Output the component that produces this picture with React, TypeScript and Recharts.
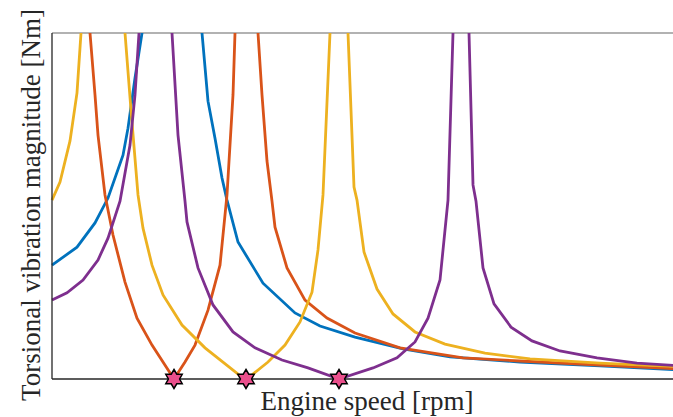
import React from 'react';
import {
  ComposedChart,
  Line,
  Scatter,
  XAxis,
  YAxis,
  ReferenceLine,
} from 'recharts';

// ---------------------------------------------------------------------------
// Data: [engine speed (rpm), torsional vibration magnitude (Nm)]
// values above 100 are off the top of the axes (resonance peaks)
// ---------------------------------------------------------------------------

const blueSeries: [number, number][] = [
  [1000, 32.9], [1125, 38.1], [1215, 45.1], [1280, 52.3], [1355, 64.7],
  [1380, 72.5], [1415, 87.0], [1450, 100], [1600, 400], [1750, 100],
  [1780, 80.3], [1815, 69.6], [1850, 58.1], [1875, 51.7], [1930, 39.6],
  [2055, 27.7], [2215, 19.1], [2340, 15.3], [2515, 12.1], [2755, 8.7],
  [2990, 6.4], [3340, 4.9], [3740, 3.8], [4150, 2.6],
];

const orangeSeries: [number, number][] = [
  [1000, 300], [1190, 100], [1215, 82.1], [1230, 70.5], [1265, 53.2],
  [1305, 41.6], [1365, 28.0], [1425, 17.6], [1500, 9.8], [1610, 0],
  [1665, 4.9], [1715, 9.8], [1780, 19.9], [1840, 32.9], [1875, 53.2],
  [1905, 82.1], [1915, 100], [1970, 400], [2030, 100], [2050, 82.1],
  [2075, 63.0], [2100, 51.4], [2115, 43.9], [2175, 32.1], [2265, 22.8],
  [2375, 17.6], [2515, 13.3], [2740, 9.0], [3055, 6.1], [3340, 5.2],
  [3740, 4.0], [4150, 2.9],
];

const yellowSeries: [number, number][] = [
  [1000, 51.7], [1040, 56.9], [1090, 68.8], [1125, 82.7], [1145, 100],
  [1255, 400], [1365, 100], [1395, 77.7], [1430, 53.2], [1455, 43.6],
  [1500, 32.9], [1555, 24.3], [1650, 15.6], [1765, 9.0], [1935, 1.2],
  [1970, 0], [2000, 1.2], [2080, 4.9], [2165, 9.8], [2240, 16.5],
  [2300, 25.1], [2330, 37.3], [2355, 53.2], [2390, 100], [2435, 400],
  [2480, 100], [2510, 55.5], [2525, 51.7], [2560, 36.7], [2625, 26.0],
  [2705, 18.8], [2815, 13.6], [2965, 10.1], [3165, 7.5], [3390, 5.8],
  [3740, 4.6], [4150, 3.5],
];

const purpleSeries: [number, number][] = [
  [1000, 22.8], [1075, 24.9], [1155, 28.6], [1230, 34.4], [1280, 40.7],
  [1340, 51.4], [1390, 67.6], [1415, 82.1], [1435, 100], [1515, 400],
  [1600, 100], [1630, 70.5], [1665, 51.4], [1675, 45.4], [1730, 32.1],
  [1805, 21.4], [1905, 13.6], [2015, 9.0], [2150, 5.5], [2280, 3.2],
  [2435, 0], [2605, 3.2], [2725, 6.1], [2815, 10.7], [2880, 17.6],
  [2940, 28.6], [2980, 51.7], [3005, 100], [3045, 400], [3085, 100],
  [3105, 56.1], [3120, 51.4], [3155, 32.1], [3210, 21.7], [3295, 15.0],
  [3400, 11.0], [3540, 8.1], [3725, 6.1], [3925, 4.6], [4150, 3.8],
];

// anti-resonance points marked with stars
const antiResonanceRpm = [1610, 1970, 2435];

const X_DOMAIN: [number, number] = [1000, 4150];
const Y_DOMAIN: [number, number] = [0, 100];

const toRows = (s: [number, number][]) => s.map(([rpm, v]) => ({ rpm, v }));

const series = [
  { name: 'blue', color: '#0072BD', data: toRows(blueSeries) },
  { name: 'orange', color: '#D95319', data: toRows(orangeSeries) },
  { name: 'yellow', color: '#EDB120', data: toRows(yellowSeries) },
  { name: 'purple', color: '#7E2F8E', data: toRows(purpleSeries) },
];

const starData = antiResonanceRpm.map((rpm) => ({ rpm, v: 0 }));

// six pointed star marker
const Hexagram = (props: any) => {
  const { cx, cy } = props;
  if (cx == null || cy == null) return null;
  const R = 9.5;
  const r = 5.6;
  const pts: string[] = [];
  for (let i = 0; i < 12; i++) {
    const a = -Math.PI / 2 + (i * Math.PI) / 6;
    const rad = i % 2 === 0 ? R : r;
    pts.push(`${cx + rad * Math.cos(a)},${cy + rad * Math.sin(a)}`);
  }
  return <polygon points={pts.join(' ')} fill="#EA4F8C" stroke="#000" strokeWidth={1.5} strokeLinejoin="miter" />;
};

const W = 690;
const H = 417;
const FONT = '"Liberation Serif", "Times New Roman", serif';
const AXIS = { stroke: '#262626', strokeWidth: 1.3 };

export default function App() {
  return (
    <div style={{ position: 'absolute', left: 0, top: 0, width: 673, height: 417, overflow: 'hidden', background: '#fff' }}>
      <ComposedChart width={W} height={H} margin={{ top: 33, right: 8, bottom: 8, left: 22 }}>
        <XAxis
          dataKey="rpm"
          type="number"
          domain={X_DOMAIN}
          height={30}
          tick={false}
          tickLine={false}
          axisLine={AXIS}
        />
        <YAxis
          yAxisId="main"
          dataKey="v"
          type="number"
          domain={Y_DOMAIN}
          allowDataOverflow
          width={30}
          tick={false}
          tickLine={false}
          axisLine={AXIS}
        />
        <YAxis yAxisId="stars" dataKey="v" type="number" domain={Y_DOMAIN} hide />
        <ReferenceLine yAxisId="main" y={100} stroke="#999" strokeWidth={1.3} />
        {series.map((s) => (
          <Line
            key={s.name}
            yAxisId="main"
            data={s.data}
            dataKey="v"
            type="linear"
            stroke={s.color}
            strokeWidth={2.8}
            dot={false}
            activeDot={false}
            isAnimationActive={false}
          />
        ))}
        <Scatter
          yAxisId="stars"
          data={starData}
          dataKey="v"
          shape={<Hexagram />}
          isAnimationActive={false}
        />
      </ComposedChart>
      <svg width={673} height={417} style={{ position: 'absolute', left: 0, top: 0, pointerEvents: 'none' }}>
        <text
          x={367}
          y={410}
          textAnchor="middle"
          fontFamily={FONT}
          fontSize={27}
          fill="#262626"
        >
          Engine speed [rpm]
        </text>
        <text
          transform="translate(40,205) rotate(-90)"
          textAnchor="middle"
          fontFamily={FONT}
          fontSize={27}
          fill="#262626"
        >
          Torsional vibration magnitude [Nm]
        </text>
      </svg>
    </div>
  );
}
